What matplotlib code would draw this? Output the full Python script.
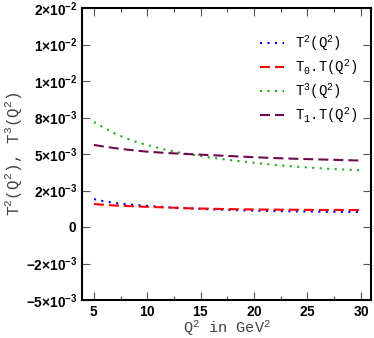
import matplotlib
matplotlib.use("Agg")
import matplotlib.pyplot as plt
from matplotlib.ticker import MultipleLocator

# ---- data ----
q2 = [5, 6, 7, 8, 9, 10, 12, 14, 16, 18, 20, 22, 24, 26, 28, 30]
t2 = [1.91e-3, 1.75e-3, 1.64e-3, 1.56e-3, 1.50e-3, 1.45e-3, 1.35e-3, 1.27e-3,
      1.21e-3, 1.16e-3, 1.12e-3, 1.09e-3, 1.07e-3, 1.05e-3, 1.03e-3, 1.02e-3]
t0t = [1.57e-3, 1.52e-3, 1.47e-3, 1.44e-3, 1.41e-3, 1.38e-3, 1.33e-3, 1.28e-3,
       1.25e-3, 1.22e-3, 1.20e-3, 1.19e-3, 1.18e-3, 1.17e-3, 1.17e-3, 1.16e-3]
t3 = [7.19e-3, 6.77e-3, 6.39e-3, 6.08e-3, 5.82e-3, 5.61e-3, 5.24e-3, 4.97e-3,
      4.75e-3, 4.56e-3, 4.40e-3, 4.25e-3, 4.13e-3, 4.03e-3, 3.95e-3, 3.88e-3]
t1t = [5.62e-3, 5.50e-3, 5.40e-3, 5.31e-3, 5.23e-3, 5.16e-3, 5.06e-3, 4.99e-3,
       4.92e-3, 4.85e-3, 4.78e-3, 4.72e-3, 4.67e-3, 4.63e-3, 4.59e-3, 4.55e-3]

series_labels = [r"T$^2$(Q$^2$)", r"T$_0$.T(Q$^2$)", r"T$^3$(Q$^2$)", r"T$_1$.T(Q$^2$)"]

yticks = [-5e-3, -2.5e-3, 0, 2.5e-3, 5e-3, 7.5e-3, 1e-2, 1.25e-2, 1.5e-2]
ytick_labels = [r"$\mathbf{-5{\times}10^{-3}}$", r"$\mathbf{-2{\times}10^{-3}}$", r"$\mathbf{0}$",
                r"$\mathbf{2{\times}10^{-3}}$", r"$\mathbf{5{\times}10^{-3}}$",
                r"$\mathbf{8{\times}10^{-3}}$", r"$\mathbf{1{\times}10^{-2}}$",
                r"$\mathbf{1{\times}10^{-2}}$", r"$\mathbf{2{\times}10^{-2}}$"]
xticks = [5, 10, 15, 20, 25, 30]
xtick_labels = [r"$\mathbf{5}$", r"$\mathbf{10}$", r"$\mathbf{15}$", r"$\mathbf{20}$",
                r"$\mathbf{25}$", r"$\mathbf{30}$"]

plt.rcParams["mathtext.fontset"] = "custom"
plt.rcParams["mathtext.rm"] = "Liberation Mono"
plt.rcParams["mathtext.it"] = "Liberation Mono"
plt.rcParams["mathtext.bf"] = "Liberation Sans:bold"
plt.rcParams["font.family"] = ["Liberation Mono", "DejaVu Sans"]

fig = plt.figure(figsize=(3.74, 3.38), dpi=100)
ax = fig.add_axes([82/374, 38/338, 289/374, 292/338])

lw = 1.5
dot = (0, (1.0, 2.6))
dash = (0, (4.8, 2.4))
ax.plot(q2, t2, color="#0000ff", lw=lw, linestyle=dot, label=series_labels[0])
ax.plot(q2, t0t, color="#ff0000", lw=lw, linestyle=dash, label=series_labels[1])
ax.plot(q2, t3, color="#22aa22", lw=lw, linestyle=dot, label=series_labels[2])
ax.plot(q2, t1t, color="#6e0a4e", lw=lw, linestyle=dash, label=series_labels[3])

ax.set_xlim(3.88, 30.95)
ax.set_ylim(-5e-3, 1.5e-2)
ax.set_xticks(xticks)
ax.set_xticklabels(xtick_labels)
ax.set_yticks(yticks)
ax.set_yticklabels(ytick_labels)
ax.xaxis.set_minor_locator(MultipleLocator(2.5))
ax.tick_params(which="both", direction="in", top=True, right=True, labelsize=9.8,
               color="#555555", width=0.8)
ax.tick_params(which="major", length=5.5, pad=3.5)
ax.tick_params(which="minor", length=3)
for s in ax.spines.values():
    s.set_linewidth(1.5)

ax.set_xlabel(r"Q$^2$ in GeV$^2$", fontsize=11, color="#444444", labelpad=-0.3)
ax.set_ylabel(r"T$^2$(Q$^2$), T$^3$(Q$^2$)", fontsize=11.5, color="#444444", labelpad=1)

leg = ax.legend(loc="upper left", bbox_to_anchor=(0.572, 0.955), frameon=False,
                fontsize=10, handlelength=1.75, handletextpad=0.8, labelspacing=0.3,
                borderpad=0.4)

fig.savefig("out.png", dpi=100)
